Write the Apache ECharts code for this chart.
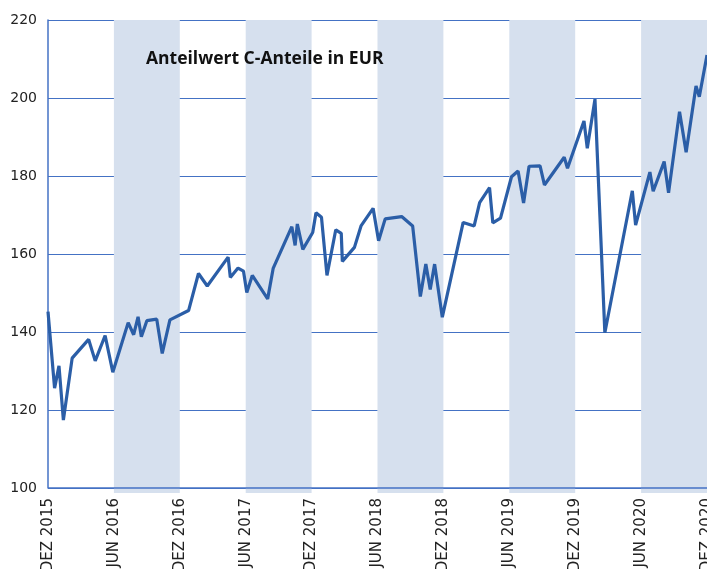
<!DOCTYPE html>
<html>
<head>
<meta charset="utf-8">
<script src="https://cdn.jsdelivr.net/npm/echarts@6/dist/echarts.min.js"></script>
<style>
  html, body { margin: 0; padding: 0; background: #fff; }
  #chart { width: 707px; height: 569px; }
</style>
</head>
<body>
<div id="chart"></div>
<script>
// months since DEZ 2015
var months = [0, 0.6, 1.0, 1.4, 2.2, 3.7, 4.3, 5.2, 5.9, 7.3, 7.8, 8.2, 8.5, 9.0, 9.9, 10.4, 11.1,
  12.8, 13.7, 14.5, 16.4, 16.6, 17.3, 17.8, 18.1, 18.6, 20.0, 20.5, 22.2, 22.5, 22.7, 23.2,
  24.1, 24.4, 24.9, 25.4, 26.2, 26.7, 26.8, 27.9, 28.5, 29.6, 30.1, 30.7, 32.2, 33.2, 33.9,
  34.4, 34.8, 35.2, 35.9, 37.8, 38.8, 39.3, 40.2, 40.5, 41.2, 42.2, 42.8, 43.3, 43.8, 44.8,
  45.2, 47.0, 47.3, 48.8, 49.1, 49.8, 50.7, 53.2, 53.5, 54.8, 55.1, 56.1, 56.5, 57.5, 58.1,
  59.0, 59.3, 60];
var anteilwert = [145.2, 125.6, 131.3, 117.4, 133.3, 138.1, 132.6, 139.1, 129.7, 142.4, 139.3, 143.9, 138.8, 142.9, 143.3, 134.5, 143.1,
  145.5, 155.0, 151.8, 159.2, 154.0, 156.4, 155.6, 150.1, 154.5, 148.5, 156.3, 167.0, 162.2, 167.7, 161.2,
  165.5, 170.6, 169.4, 154.5, 166.2, 165.3, 158.1, 161.7, 167.2, 171.7, 163.4, 169.0, 169.6, 167.2, 149.1,
  157.4, 150.9, 157.4, 143.8, 168.1, 167.2, 173.2, 177.0, 168.0, 169.2, 179.8, 181.3, 173.1, 182.5, 182.6,
  177.7, 184.8, 182.0, 194.1, 187.1, 199.7, 139.8, 176.2, 167.4, 181.0, 176.1, 183.7, 175.7, 196.5, 186.1,
  203.1, 200.3, 211.0];
var tickLabels = ['DEZ 2015', 'JUN 2016', 'DEZ 2016', 'JUN 2017', 'DEZ 2017', 'JUN 2018',
  'DEZ 2018', 'JUN 2019', 'DEZ 2019', 'JUN 2020', 'DEZ 2020'];
// shaded half years (JUN - DEZ)
var bands = [[6, 12], [18, 24], [30, 36], [42, 48], [54, 60]];

var chart = echarts.init(document.getElementById('chart'));
var blue = '#4472c4';
var option = {
  animation: false,
  title: {
    text: 'Anteilwert C-Anteile in EUR',
    left: 141, top: 45,
    textStyle: { fontFamily: 'Open Sans', fontWeight: 'bold', fontSize: 17.5, color: '#111' }
  },
  grid: { left: 48, top: 20, right: 0, bottom: 81, outerBoundsMode: 'none', containLabel: false },
  xAxis: {
    type: 'value', min: 0, max: 60, interval: 6,
    axisLine: { show: false },
    axisTick: { show: false },
    splitLine: { show: false },
    axisLabel: {
      rotate: 90, margin: 10, fontFamily: 'DejaVu Sans', fontSize: 15, color: '#222',
      showMinLabel: true, showMaxLabel: true, hideOverlap: false,
      formatter: function (v) { return tickLabels[Math.round(v / 6)]; }
    }
  },
  yAxis: {
    type: 'value', min: 100, max: 220, interval: 20,
    axisLine: { show: true, lineStyle: { color: blue, width: 1.5 } },
    axisTick: { show: false },
    splitLine: { lineStyle: { color: blue, width: 1 } },
    axisLabel: { margin: 11, fontFamily: 'DejaVu Sans', fontSize: 14, color: '#222' }
  },
  series: [{
    type: 'custom',
    clip: false,
    silent: true,
    z: 1,
    data: bands,
    renderItem: function (params, api) {
      var p0 = api.coord([api.value(0), 220]);
      var p1 = api.coord([api.value(1), 98.7]);
      return {
        type: 'rect',
        shape: { x: p0[0], y: p0[1], width: p1[0] - p0[0], height: p1[1] - p0[1] },
        style: { fill: '#d6e0ee' }
      };
    }
  }, {
    type: 'line',
    showSymbol: false,
    clip: false,
    data: months.map(function (m, i) { return [m, anteilwert[i]]; }),
    lineStyle: { color: '#2b5ea7', width: 3.2 },
    itemStyle: { color: '#2b5ea7' },
    markLine: {
      silent: true, symbol: 'none', label: { show: false },
      lineStyle: { color: blue, width: 1.5, type: 'solid' },
      data: [[{ coord: [0, 100] }, { coord: [60, 100] }]]
    },
    z: 3
  }]
};
chart.setOption(option);
</script>
</body>
</html>
